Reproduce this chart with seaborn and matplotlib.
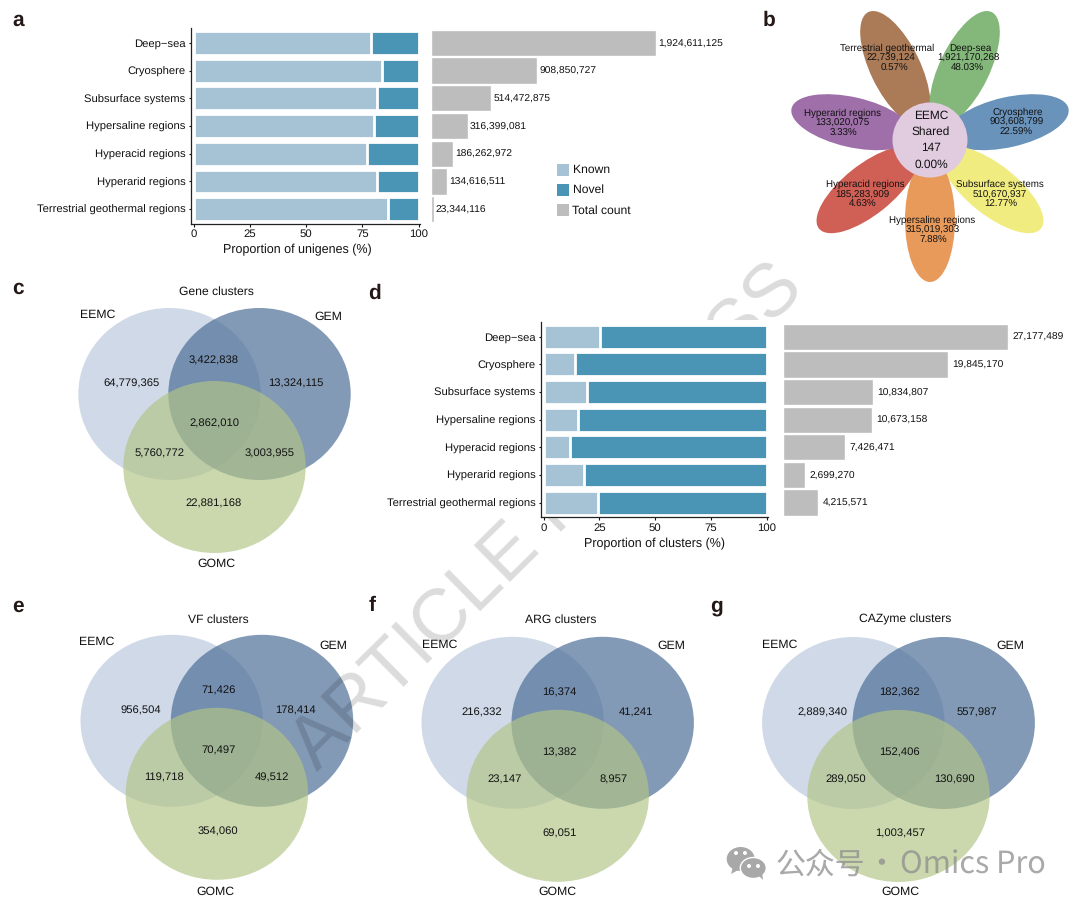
import matplotlib
matplotlib.use("Agg")
import matplotlib.pyplot as plt
from matplotlib.patches import Ellipse, Rectangle, Polygon
import numpy as np
import pandas as pd
import seaborn as sns

habitats = ["Deep\u2212sea", "Cryosphere", "Subsurface systems", "Hypersaline regions",
            "Hyperacid regions", "Hyperarid regions", "Terrestrial geothermal regions"]
known_unigenes = [78.7, 83.5, 81.5, 80.0, 77.0, 81.5, 86.5]
total_unigenes = [1924611125, 908850727, 514472875, 316399081, 186262972, 134616511, 23344116]
shared_clusters = [25.2, 14.3, 19.5, 15.4, 11.7, 18.0, 24.6]
total_clusters = [27177489, 19845170, 10834807, 10673158, 7426471, 2699270, 4215571]

petal_names = ["Hypersaline regions", "Subsurface systems", "Cryosphere", "Deep-sea",
               "Terrestrial geothermal", "Hyperarid regions", "Hyperacid regions"]
petal_counts = ["315,019,303", "510,670,937", "903,608,799", "1,921,170,268",
                "22,739,124", "133,020,075", "185,283,909"]
petal_pcts = ["7.88%", "12.77%", "22.59%", "48.03%", "0.57%", "3.33%", "4.63%"]
center_lines = ["EEMC", "Shared", "147", "0.00%"]

# order: EEMC, EEMC+GEM, GEM, all, EEMC+GOMC, GEM+GOMC, GOMC
gene_clusters = ["64,779,365", "3,422,838", "13,324,115", "2,862,010", "5,760,772", "3,003,955", "22,881,168"]
vf_clusters = ["956,504", "71,426", "178,414", "70,497", "119,718", "49,512", "354,060"]
arg_clusters = ["216,332", "16,374", "41,241", "13,382", "23,147", "8,957", "69,051"]
cazyme_clusters = ["2,889,340", "182,362", "557,987", "152,406", "289,050", "130,690", "1,003,457"]

KNOWN = "#A6C3D6"
NOVEL = "#4A94B5"
GREY = "#BDBDBD"
W, H = 1080, 907

sns.set_theme(style="ticks")
plt.rcParams["font.family"] = ["Liberation Sans", "DejaVu Sans"]
plt.rcParams["text.color"] = "#111111"
plt.rcParams["text.hinting"] = "no_hinting"

fig = plt.figure(figsize=(W / 100, H / 100), dpi=100, facecolor="white")


def px_axes(l, t, r, b, zorder=2):
    ax = fig.add_axes([l / W, 1 - b / H, (r - l) / W, (b - t) / H], zorder=zorder)
    ax.patch.set_alpha(0)
    return ax


# overlay in pixel coordinates for the venns, flower and legends
bg = px_axes(0, 0, W, H, zorder=1)
bg.set_xlim(0, W)
bg.set_ylim(H, 0)
bg.axis("off")


def stacked_panel(left_box, right_box, first, totals, first_color, xlabel, pad, label_x):
    df = pd.DataFrame({"habitat": habitats, "first": first, "full": 100, "total": totals})
    ax = px_axes(*left_box)
    sns.barplot(data=df, y="habitat", x="full", color=NOVEL, saturation=1, width=0.86,
                edgecolor="white", linewidth=2, ax=ax)
    sns.barplot(data=df, y="habitat", x="first", color=first_color, saturation=1, width=0.86,
                edgecolor="white", linewidth=2, ax=ax)
    ax.set_xlim(-1.05, 100.6)
    ax.set_ylim(6.52, -0.54)
    ax.set_xticks([0, 25, 50, 75, 100])
    ax.set_xlabel(xlabel, fontsize=9, labelpad=3.5, color="#111111", x=label_x)
    ax.set_ylabel("")
    ax.tick_params(axis="x", length=1.8, width=0.8, pad=2.2, labelsize=8.2, colors="#111111")
    ax.tick_params(axis="y", length=1.8, width=0.8, labelsize=8.1, pad=2.2, colors="#111111")
    sns.despine(ax=ax)
    for s in ("left", "bottom"):
        ax.spines[s].set_linewidth(0.9)
        ax.spines[s].set_color("#222222")

    rx = px_axes(*right_box)
    sns.barplot(data=df, y="habitat", x="total", color=GREY, saturation=1, width=0.95,
                edgecolor="white", linewidth=1, ax=rx)
    rx.set_xlim(0, max(totals))
    rx.set_ylim(6.52, -0.54)
    rx.axis("off")
    for bar, v in zip(rx.patches, totals):
        rx.annotate(f"{v:,}", (v, bar.get_y() + bar.get_height() / 2), xytext=(pad, -0.5),
                    textcoords="offset points", va="center", ha="left", fontsize=7.4,
                    annotation_clip=False)


stacked_panel((191.3, 28, 420, 223.5), (431, 28, 656, 223.5), known_unigenes, total_unigenes,
              KNOWN, "Proportion of unigenes (%)", 1.5, 0.465)
stacked_panel((541.2, 321.8, 768, 517), (783, 321.8, 1008.5, 517), shared_clusters, total_clusters,
              KNOWN, "Proportion of clusters (%)", 3.2, 0.5)


def legend_px(x, ys, labels, colors):
    for y, lab, c in zip(ys, labels, colors):
        bg.add_patch(Rectangle((x, y - 6), 12, 12, fc=c, ec="none", zorder=6))
        bg.text(x + 16, y + 0.5, lab, fontsize=8.7, va="center", ha="left", zorder=6)


legend_px(556.5, [169.5, 189.5, 210], ["Known", "Novel", "Total count"], [KNOWN, NOVEL, GREY])
legend_px(910, [470, 488.3, 506.5], ["Shared with GEM/GOMC", "Novel", "Total count"], [KNOWN, NOVEL, GREY])

# flower
cx, cy = 930, 140
petal_colors = ["#E89A5B", "#F1EC80", "#6A93BC", "#84B87A", "#AB7B58", "#9E6FA8", "#D05F55"]
petal_draw = [4, 3, 2, 1, 0, 6, 5]
for i in petal_draw:
    ang = np.deg2rad(-90 + i * 360 / 7)
    ex, ey = cx + 80 * np.cos(ang), cy - 80 * np.sin(ang)
    bg.add_patch(Ellipse((ex, ey), 124, 50, angle=-np.rad2deg(ang), fc=petal_colors[i],
                         ec="none", zorder=3))
bg.add_patch(Ellipse((cx, cy), 75, 75, fc="#E0CBDF", ec="none", zorder=4))
# x of each of the three lines, petal by petal
petal_text_x = [(932.3, 932.7, 933.3), (1000, 1000, 1001), (1017.3, 1017, 1016.3), (970, 968.3, 967.3),
                (887.3, 890.7, 894.3), (842, 842.7, 843.3), (865.3, 862.7, 862.3)]
petal_text_y = [230, 194.7, 122, 58.3, 58.3, 123, 194.7]
for xs, ty, a, b, c in zip(petal_text_x, petal_text_y, petal_names, petal_counts, petal_pcts):
    for tx, dy, s in zip(xs, (-10, 0, 10), (a, b, c)):
        bg.text(tx, ty + dy, s, fontsize=7.05, ha="center", va="center", zorder=5)
for y, s in zip((115.3, 131.7, 147.7, 164.3), center_lines):
    bg.text(931, y, s, fontsize=8.6, ha="center", va="center", zorder=5)


# venns
def venn(ex, ey, gap, gomc_dy, values, offsets, title_xy, eemc_xy, gem_xy, gomc_xy, title):
    rx, ry = 91.2, 86
    for (x, y), fc, alpha, z in (((ex, ey), "#A0B5D2", 0.5, 2.0),
                                 ((ex + gap, ey), "#4E6F97", 0.7, 2.1),
                                 ((ex + gap / 2, ey + gomc_dy), "#B2C586", 0.67, 2.2)):
        bg.add_patch(Ellipse((x, y), rx * 2, ry * 2, fc=fc, alpha=alpha, ec="none", zorder=z))
    for (dx, dy), v in zip(offsets, values):
        bg.text(ex + dx, ey + dy + 1.2, v, fontsize=8.1, ha="center", va="center", zorder=4)
    bg.text(*title_xy, title, fontsize=8.7, ha="center", va="center", zorder=4)
    bg.text(*eemc_xy, "EEMC", fontsize=8.8, ha="center", va="center", zorder=4)
    bg.text(*gem_xy, "GEM", fontsize=8.8, ha="center", va="center", zorder=4)
    bg.text(*gomc_xy, "GOMC", fontsize=8.8, ha="center", va="center", zorder=4)


off_c = [(-37.5, -11), (44.5, -34), (126, -11), (44.5, 29), (-9.5, 59), (100.5, 59), (44.5, 109)]
off_v = [(-30.5, -11), (46.5, -31.5), (123.5, -11), (46.5, 28.5), (-7.8, 55.5), (100.7, 55.5), (46.5, 110)]
venn(169.5, 394, 90, 73, gene_clusters, off_c, (216, 291.7), (97.7, 315), (328, 316.7), (216, 564), "Gene clusters")
venn(171.7, 720.8, 90.3, 73, vf_clusters, off_v, (218, 619.3), (96.7, 641.7), (333, 645.7), (215.7, 892), "VF clusters")
venn(512.7, 722.8, 90, 73, arg_clusters, off_v, (560.7, 619.3), (439.3, 644.3), (671.7, 645.7), (557.7, 892), "ARG clusters")
venn(853.3, 723, 90.4, 73, cazyme_clusters, off_v, (904.7, 619.3), (780, 644.3), (1010.7, 646), (900.3, 892), "CAZyme clusters")

# panel letters
for s, x, y in [("a", 18, 20), ("b", 769, 20), ("c", 18, 288), ("d", 375, 293),
                ("e", 18, 606), ("f", 372, 606), ("g", 717, 606)]:
    bg.text(x, y, s, fontsize=15, fontweight="bold", ha="center", va="center", color="#231815", zorder=8)

# press watermark, hidden behind panel d
bg.text(548, 518, "ARTICLE IN PRESS", fontsize=54, rotation=44.6, rotation_mode="anchor",
        ha="center", va="center", color="black", alpha=0.14, zorder=7)
bg.add_patch(Rectangle((385, 320), 690, 198, fc="white", ec="none", zorder=7.5))

# wechat mark
mark = "#8C8C8C"
cjk = ["Noto Sans CJK SC", "DejaVu Sans"]
bg.add_patch(Ellipse((740.7, 859), 28, 24, fc="#A8A8A8", ec="none", zorder=9))
bg.add_patch(Polygon([(733, 867), (731, 874), (740, 869)], fc="#A8A8A8", ec="none", zorder=9))
bg.add_patch(Ellipse((753.3, 868), 26, 21, fc="#A8A8A8", ec="white", lw=1, zorder=9.1))
bg.add_patch(Polygon([(758, 875), (763, 880), (762, 872)], fc="#A8A8A8", ec="none", zorder=9.1))
for x, y, z in [(736, 853, 9.05), (745, 853, 9.05), (749, 866, 9.2), (758, 866, 9.2)]:
    bg.add_patch(Ellipse((x, y), 4, 4, fc="white", ec="none", zorder=z))
bg.text(776, 865, "公众号", fontsize=21.5, ha="left", va="center", color=mark, alpha=0.75, family=cjk, zorder=9)
bg.text(881, 865, "·", fontsize=21.5, ha="center", va="center", color=mark, alpha=0.75, family=cjk, zorder=9)
bg.text(900, 865, "Omics Pro", fontsize=22, ha="left", va="center", color=mark, alpha=0.75, family=cjk, zorder=9)

fig.savefig("out.png", dpi=100)
plt.close(fig)
